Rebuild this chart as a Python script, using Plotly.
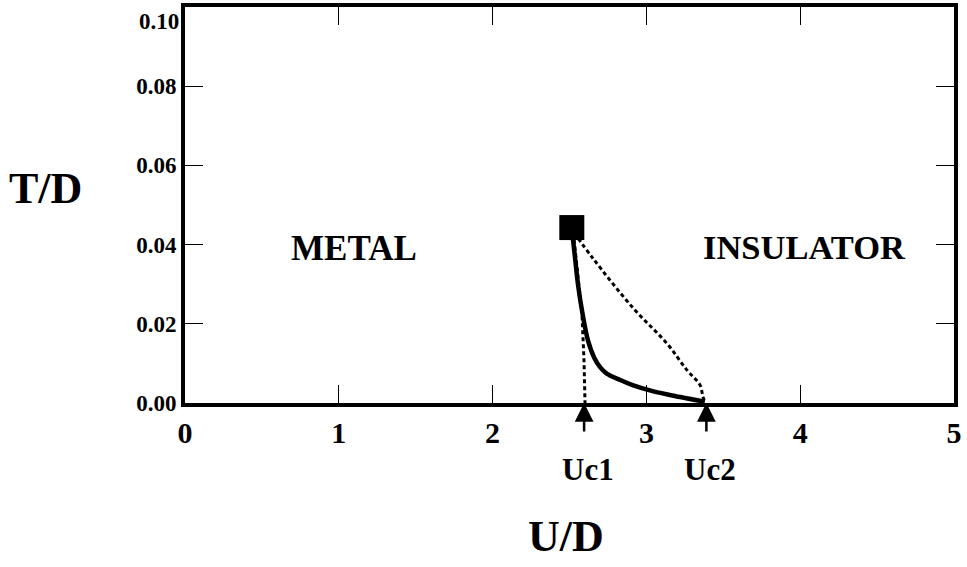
import plotly.graph_objects as go

# critical end point (square)
crit_u = [2.515]
crit_t = [0.0443]

# first-order transition line (solid)
solid_u = [2.515, 2.535, 2.555, 2.585, 2.62, 2.66, 2.70, 2.74, 2.83, 2.91, 3.04, 3.22, 3.38]
solid_t = [0.0440, 0.0370, 0.0300, 0.0225, 0.0158, 0.0115, 0.0090, 0.0075, 0.0058, 0.0045, 0.0030, 0.0015, 0.0003]

# spinodal Uc1 (dashed, left)
uc1_u = [2.525, 2.55, 2.581, 2.594, 2.601]
uc1_t = [0.0430, 0.0340, 0.0225, 0.0110, 0.0]

# spinodal Uc2 (dashed, right)
uc2_u = [2.53, 2.653, 2.913, 3.134, 3.264, 3.349, 3.368, 3.385]
uc2_t = [0.0430, 0.0365, 0.0240, 0.0150, 0.0083, 0.0045, 0.0015, 0.0]

uc_vals = [2.595, 3.39]
uc_labels = ["Uc1", "Uc2"]

x_ticks = [0, 1, 2, 3, 4, 5]
y_ticks = [0.0, 0.02, 0.04, 0.06, 0.08, 0.10]
y_ticktext = ["0.00", "0.02", "0.04", "0.06", "0.08", ""]

serif = "Liberation Serif"


def bold(size):
    return dict(family=serif, size=size, weight="bold", color="black")


fig = go.Figure()

fig.add_trace(go.Scatter(x=uc1_u, y=uc1_t, mode="lines",
                         line=dict(color="black", width=3, dash="4px,3px")))
fig.add_trace(go.Scatter(x=uc2_u, y=uc2_t, mode="lines",
                         line=dict(color="black", width=3, dash="4px,3px", shape="spline")))
fig.add_trace(go.Scatter(x=solid_u, y=solid_t, mode="lines",
                         line=dict(color="black", width=4.5, shape="spline")))
fig.add_trace(go.Scatter(x=crit_u, y=crit_t, mode="markers",
                         marker=dict(symbol="square", size=25, color="black")))

# region labels
fig.add_annotation(x=1.1, y=0.039, text="METAL", showarrow=False, font=bold(35))
fig.add_annotation(x=4.03, y=0.0395, text="INSULATOR", showarrow=False, font=bold(34.5))

# arrows + labels at Uc1 / Uc2
for u, lab in zip(uc_vals, uc_labels):
    fig.add_annotation(x=u, y=0, ax=0, ay=30, text="", showarrow=True,
                       arrowhead=2, arrowsize=1.5, arrowwidth=2.5, arrowcolor="black")
    fig.add_annotation(x=u, y=-0.1675, xref="x", yref="paper", text=lab, showarrow=False,
                       xanchor="center", yanchor="middle", xshift=4, font=bold(31))

# axis titles and the clipped top tick label
fig.add_annotation(x=-0.182, y=0.5425, xref="paper", yref="paper", text="T/D",
                   xanchor="center", yanchor="middle", showarrow=False, font=bold(44))
fig.add_annotation(x=0.495, y=-0.3375, xref="paper", yref="paper", text="U/D",
                   xanchor="center", yanchor="middle", showarrow=False, font=bold(44))
fig.add_annotation(x=0, y=1, xref="paper", yref="paper", text="0.10", showarrow=False,
                   xanchor="right", yanchor="top", xshift=-4, font=bold(23))

fig.update_layout(
    width=967, height=567,
    margin=dict(l=185, r=13, t=3, b=164),
    plot_bgcolor="white", paper_bgcolor="white",
    showlegend=False,
    xaxis=dict(range=[0, 5], tickvals=x_ticks, showgrid=False, zeroline=False,
               showline=True, linewidth=4, linecolor="black", mirror="ticks",
               ticks="inside", ticklen=18, tickwidth=1.2, tickcolor="black",
               ticklabelstandoff=0, tickfont=bold(30)),
    yaxis=dict(range=[0, 0.10], tickvals=y_ticks, ticktext=y_ticktext,
               showgrid=False, zeroline=False,
               showline=True, linewidth=4, linecolor="black", mirror="ticks",
               ticks="inside", ticklen=18, tickwidth=1.2, tickcolor="black",
               tickfont=bold(23)),
)

fig.write_html("out.html", config={"displayModeBar": False},
               post_script="document.body.style.margin='0';")
